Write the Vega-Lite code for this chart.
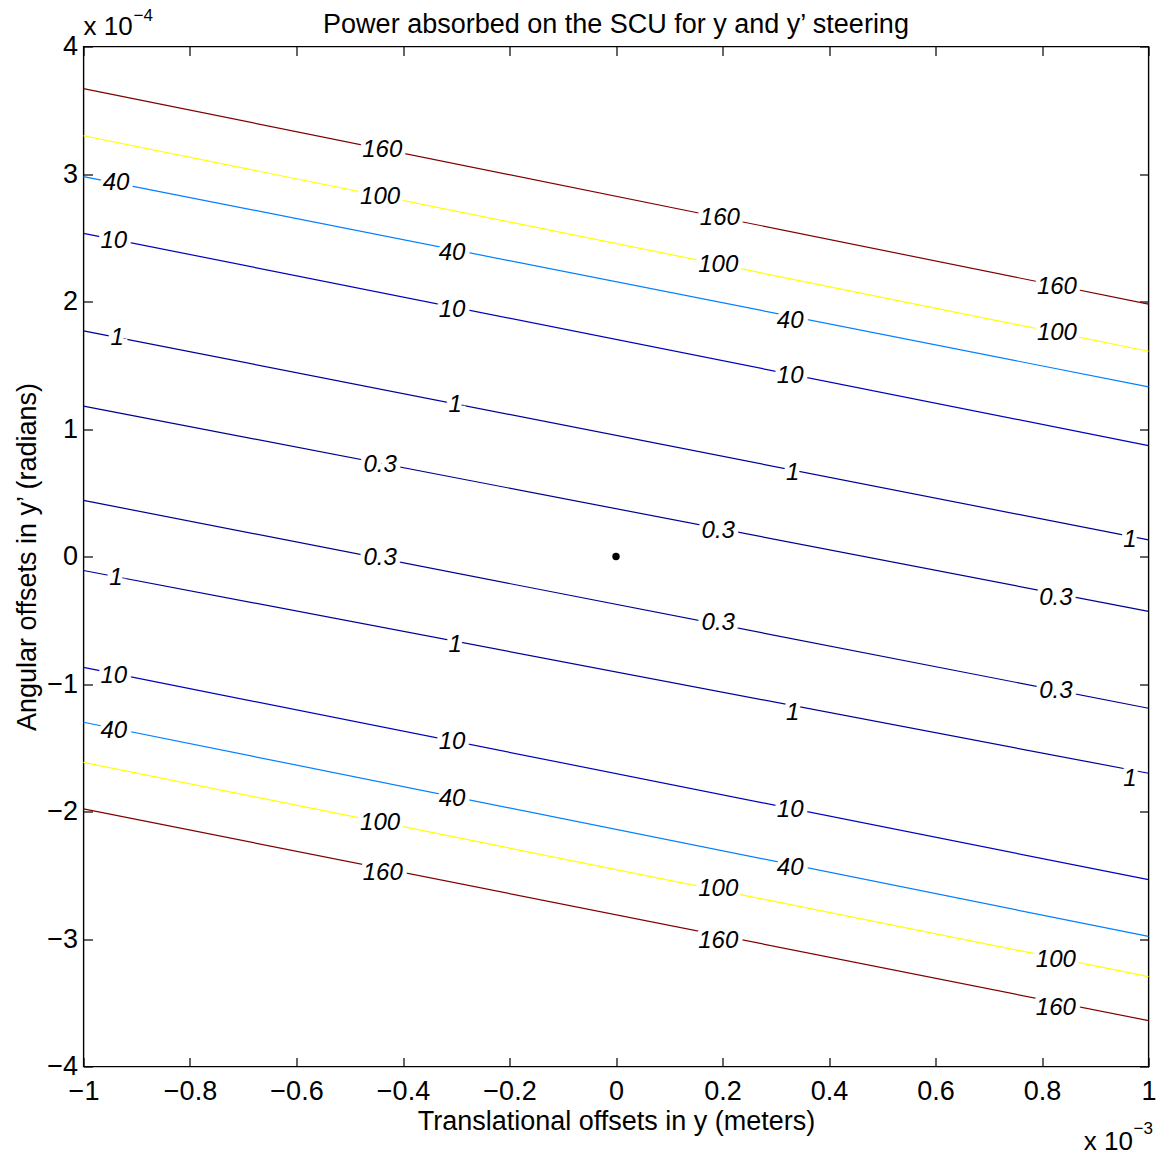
{
  "$schema": "https://vega.github.io/schema/vega-lite/v6.json",
  "width": 1065,
  "height": 1020,
  "autosize": "none",
  "padding": {"left": 83.5, "top": 46.5, "right": 18.5, "bottom": 86.5},
  "background": "white",
  "config": {
    "font": "Liberation Sans",
    "view": {"stroke": "black", "strokeWidth": 1.4},
    "axis": {
      "domain": false,
      "grid": false,
      "tickColor": "black",
      "tickWidth": 1.2,
      "tickSize": -9,
      "labelFont": "Liberation Sans",
      "labelFontSize": 27,
      "labelColor": "black",
      "titleFont": "Liberation Sans",
      "titleFontSize": 27,
      "titleFontWeight": "normal",
      "titleColor": "black"
    }
  },
  "title": {
    "text": "Power absorbed on the SCU for y and y’ steering",
    "font": "Liberation Sans",
    "fontSize": 27,
    "fontWeight": "normal",
    "color": "black",
    "anchor": "middle",
    "baseline": "alphabetic",
    "offset": -53
  },
  "datasets": {
    "lines": [
      {"id": "t160", "level": "160", "x": -1, "y": 3.67},
      {"id": "t160", "level": "160", "x": 1, "y": 1.98},
      {"id": "t100", "level": "100", "x": -1, "y": 3.30},
      {"id": "t100", "level": "100", "x": 1, "y": 1.61},
      {"id": "t40", "level": "40", "x": -1, "y": 2.98},
      {"id": "t40", "level": "40", "x": 1, "y": 1.33},
      {"id": "t10", "level": "10", "x": -1, "y": 2.535},
      {"id": "t10", "level": "10", "x": 1, "y": 0.87},
      {"id": "t1", "level": "1", "x": -1, "y": 1.77},
      {"id": "t1", "level": "1", "x": 1, "y": 0.13},
      {"id": "t03", "level": "0.3", "x": -1, "y": 1.18},
      {"id": "t03", "level": "0.3", "x": 1, "y": -0.43},
      {"id": "b03", "level": "0.3", "x": -1, "y": 0.44},
      {"id": "b03", "level": "0.3", "x": 1, "y": -1.19},
      {"id": "b1", "level": "1", "x": -1, "y": -0.11},
      {"id": "b1", "level": "1", "x": 1, "y": -1.70},
      {"id": "b10", "level": "10", "x": -1, "y": -0.87},
      {"id": "b10", "level": "10", "x": 1, "y": -2.535},
      {"id": "b40", "level": "40", "x": -1, "y": -1.30},
      {"id": "b40", "level": "40", "x": 1, "y": -2.98},
      {"id": "b100", "level": "100", "x": -1, "y": -1.615},
      {"id": "b100", "level": "100", "x": 1, "y": -3.295},
      {"id": "b160", "level": "160", "x": -1, "y": -1.98},
      {"id": "b160", "level": "160", "x": 1, "y": -3.64}
    ],
    "labels": [
      {"label": "160", "x": -0.439, "y": 3.188},
      {"label": "160", "x": 0.195, "y": 2.655},
      {"label": "160", "x": 0.828, "y": 2.114},
      {"label": "100", "x": -0.443, "y": 2.82},
      {"label": "100", "x": 0.192, "y": 2.286},
      {"label": "100", "x": 0.828, "y": 1.753},
      {"label": "40", "x": -0.939, "y": 2.93},
      {"label": "40", "x": -0.308, "y": 2.38},
      {"label": "40", "x": 0.327, "y": 1.847},
      {"label": "10", "x": -0.943, "y": 2.475},
      {"label": "10", "x": -0.308, "y": 1.933},
      {"label": "10", "x": 0.327, "y": 1.416},
      {"label": "1", "x": -0.937, "y": 1.714},
      {"label": "1", "x": -0.302, "y": 1.188},
      {"label": "1", "x": 0.332, "y": 0.655},
      {"label": "1", "x": 0.965, "y": 0.129},
      {"label": "0.3", "x": -0.443, "y": 0.718},
      {"label": "0.3", "x": 0.192, "y": 0.2},
      {"label": "0.3", "x": 0.826, "y": -0.325},
      {"label": "0.3", "x": -0.443, "y": -0.012},
      {"label": "0.3", "x": 0.192, "y": -0.522},
      {"label": "0.3", "x": 0.826, "y": -1.055},
      {"label": "1", "x": -0.939, "y": -0.169},
      {"label": "1", "x": -0.302, "y": -0.694},
      {"label": "1", "x": 0.332, "y": -1.227},
      {"label": "1", "x": 0.965, "y": -1.745},
      {"label": "10", "x": -0.943, "y": -0.937},
      {"label": "10", "x": -0.308, "y": -1.455},
      {"label": "10", "x": 0.327, "y": -1.988},
      {"label": "40", "x": -0.943, "y": -1.369},
      {"label": "40", "x": -0.308, "y": -1.902},
      {"label": "40", "x": 0.327, "y": -2.443},
      {"label": "100", "x": -0.443, "y": -2.09},
      {"label": "100", "x": 0.192, "y": -2.608},
      {"label": "100", "x": 0.826, "y": -3.165},
      {"label": "160", "x": -0.438, "y": -2.482},
      {"label": "160", "x": 0.192, "y": -3.015},
      {"label": "160", "x": 0.826, "y": -3.541}
    ],
    "origin": [{"x": 0, "y": 0}]
  },
  "layer": [
    {
      "data": {"name": "lines"},
      "mark": {"type": "line", "strokeWidth": 1.2, "interpolate": "linear"},
      "encoding": {
        "x": {
          "field": "x", "type": "quantitative",
          "scale": {"domain": [-1, 1], "nice": false, "zero": false},
          "axis": {
            "orient": "bottom",
            "values": [-1, -0.8, -0.6, -0.4, -0.2, 0, 0.2, 0.4, 0.6, 0.8, 1],
            "format": "~g",
            "labelPadding": 21,
            "labelFlush": false,
            "title": "Translational offsets in y (meters)",
            "titlePadding": 4
          }
        },
        "y": {
          "field": "y", "type": "quantitative",
          "scale": {"domain": [-4, 4], "nice": false, "zero": false},
          "axis": {
            "orient": "left",
            "values": [-4, -3, -2, -1, 0, 1, 2, 3, 4],
            "format": "~g",
            "labelPadding": 15,
            "labelFlush": false,
            "title": "Angular offsets in y’ (radians)",
            "titlePadding": 5
          }
        },
        "color": {
          "field": "level", "type": "nominal",
          "scale": {
            "domain": ["0.3", "1", "10", "40", "100", "160"],
            "range": ["#00008F", "#000098", "#0000C0", "#0080FF", "#FFFF00", "#800000"]
          },
          "legend": null
        },
        "detail": {"field": "id"}
      }
    },
    {
      "data": {"name": "labels"},
      "mark": {"type": "text", "fontSize": 24, "fontStyle": "italic", "font": "Liberation Sans", "align": "center", "baseline": "middle", "stroke": "white", "strokeWidth": 9, "fill": "white"},
      "encoding": {
        "x": {"field": "x", "type": "quantitative", "axis": null},
        "y": {"field": "y", "type": "quantitative", "axis": null},
        "text": {"field": "label"}
      }
    },
    {
      "data": {"name": "labels"},
      "mark": {"type": "text", "fontSize": 24, "fontStyle": "italic", "font": "Liberation Sans", "align": "center", "baseline": "middle", "fill": "black"},
      "encoding": {
        "x": {"field": "x", "type": "quantitative", "axis": null},
        "y": {"field": "y", "type": "quantitative", "axis": null},
        "text": {"field": "label"}
      }
    },
    {
      "data": {"name": "origin"},
      "mark": {"type": "point", "filled": true, "color": "black", "size": 55, "opacity": 1},
      "encoding": {
        "x": {"field": "x", "type": "quantitative", "axis": null},
        "y": {"field": "y", "type": "quantitative", "axis": null}
      }
    },
    {
      "data": {"values": [{}]},
      "mark": {"type": "text", "text": "x 10", "fontSize": 26, "font": "Liberation Sans", "align": "left", "baseline": "alphabetic", "dx": 0, "dy": -11.5, "color": "black"},
      "encoding": {
        "x": {"datum": -1, "type": "quantitative", "axis": null},
        "y": {"datum": 4, "type": "quantitative", "axis": null}
      }
    },
    {
      "data": {"values": [{}]},
      "mark": {"type": "text", "text": "−4", "fontSize": 17, "font": "Liberation Sans", "align": "left", "baseline": "alphabetic", "dx": 50, "dy": -25.5, "color": "black"},
      "encoding": {
        "x": {"datum": -1, "type": "quantitative", "axis": null},
        "y": {"datum": 4, "type": "quantitative", "axis": null}
      }
    },
    {
      "data": {"values": [{}]},
      "mark": {"type": "text", "text": "x 10", "fontSize": 26, "font": "Liberation Sans", "align": "right", "baseline": "alphabetic", "dx": -15.5, "dy": 83, "color": "black"},
      "encoding": {
        "x": {"datum": 1, "type": "quantitative", "axis": null},
        "y": {"datum": -4, "type": "quantitative", "axis": null}
      }
    },
    {
      "data": {"values": [{}]},
      "mark": {"type": "text", "text": "−3", "fontSize": 17, "font": "Liberation Sans", "align": "left", "baseline": "alphabetic", "dx": -15, "dy": 67, "color": "black"},
      "encoding": {
        "x": {"datum": 1, "type": "quantitative", "axis": null},
        "y": {"datum": -4, "type": "quantitative", "axis": null}
      }
    },
    {
      "data": {"name": "origin"},
      "mark": {"type": "point", "opacity": 0},
      "encoding": {
        "x": {
          "field": "x", "type": "quantitative",
          "axis": {"orient": "top", "values": [-1, -0.8, -0.6, -0.4, -0.2, 0, 0.2, 0.4, 0.6, 0.8, 1], "labels": false, "title": null}
        },
        "y": {
          "field": "y", "type": "quantitative",
          "axis": {"orient": "right", "values": [-4, -3, -2, -1, 0, 1, 2, 3, 4], "labels": false, "title": null}
        }
      }
    }
  ],
  "resolve": {"axis": {"x": "independent", "y": "independent"}}
}
